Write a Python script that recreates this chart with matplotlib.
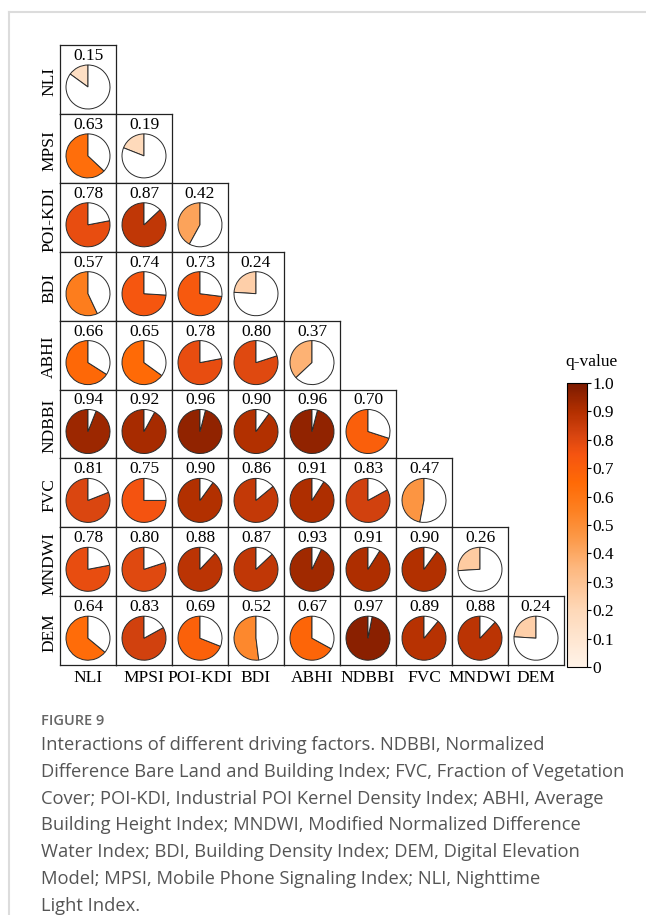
import matplotlib
matplotlib.use("Agg")
import matplotlib.pyplot as plt
import numpy as np
from matplotlib.colors import LinearSegmentedColormap, Normalize
from matplotlib.cm import ScalarMappable
from matplotlib.lines import Line2D

W, H = 646, 915

factors = ["NLI", "MPSI", "POI-KDI", "BDI", "ABHI", "NDBBI", "FVC", "MNDWI", "DEM"]

# lower triangle of q-values, row by row
qNLI = [0.15]
qMPSI = [0.63, 0.19]
qPOI = [0.78, 0.87, 0.42]
qBDI = [0.57, 0.74, 0.73, 0.24]
qABHI = [0.66, 0.65, 0.78, 0.80, 0.37]
qNDBBI = [0.94, 0.92, 0.96, 0.90, 0.96, 0.70]
qFVC = [0.81, 0.75, 0.90, 0.86, 0.91, 0.83, 0.47]
qMNDWI = [0.78, 0.80, 0.88, 0.87, 0.93, 0.91, 0.90, 0.26]
qDEM = [0.64, 0.83, 0.69, 0.52, 0.67, 0.97, 0.89, 0.88, 0.24]
qRows = [qNLI, qMPSI, qPOI, qBDI, qABHI, qNDBBI, qFVC, qMNDWI, qDEM]

cbTicks = [0, 0.1, 0.2, 0.3, 0.4, 0.5, 0.6, 0.7, 0.8, 0.9, 1.0]
cbTickLabels = ["0", "0.1", "0.2", "0.3", "0.4", "0.5", "0.6", "0.7", "0.8", "0.9", "1.0"]

captionHead = "FIGURE 9"
captionLines = [
	"Interactions of different driving factors. NDBBI, Normalized",
	"Difference Bare Land and Building Index; FVC, Fraction of Vegetation",
	"Cover; POI-KDI, Industrial POI Kernel Density Index; ABHI, Average",
	"Building Height Index; MNDWI, Modified Normalized Difference",
	"Water Index; BDI, Building Density Index; DEM, Digital Elevation",
	"Model; MPSI, Mobile Phone Signaling Index; NLI, Nighttime",
	"Light Index.",
]

cmap = LinearSegmentedColormap.from_list("qval", [
	(0.0, "#fff3e8"), (0.2, "#fed8b8"), (0.35, "#fdb77e"), (0.45, "#fc9a4a"),
	(0.55, "#fd8122"), (0.65, "#ff6a06"), (0.75, "#f55410"), (0.82, "#d64410"),
	(0.9, "#b33000"), (1.0, "#7b1a00")])
norm = Normalize(0, 1)

serif = "Liberation Serif"

def box(l, t, w, h):
	# pixel box (top-left origin) -> figure fraction rect
	return [l / W, 1 - (t + h) / H, w / W, h / H]

fig = plt.figure(figsize=(W / 100, H / 100), dpi=100)

# page frame
fig.add_artist(Line2D([9 / W, 1], [1 - 12 / H, 1 - 12 / H], color="#dcdcdc", lw=1.5))
fig.add_artist(Line2D([9 / W, 9 / W], [1 - 12 / H, 0], color="#dcdcdc", lw=1.5))

x0, y0 = 60, 45
cw, ch = 56, 68.9

for i, row in enumerate(qRows):
	for j, q in enumerate(row):
		ax = fig.add_axes(box(x0 + j * cw, y0 + i * ch, cw, ch))
		ax.pie([q, 1 - q], colors=[cmap(norm(q)), "white"], startangle=90, counterclock=True,
			radius=22, center=(cw / 2, ch - 42), frame=True,
			wedgeprops=dict(edgecolor="#2a2a2a", linewidth=0.7))
		ax.text(cw / 2, ch - 11, "%.2f" % q, ha="center", va="center", fontsize=12.5, family=serif)
		ax.set_xlim(0, cw)
		ax.set_ylim(0, ch)
		ax.set_xticks([])
		ax.set_yticks([])
		for s in ax.spines.values():
			s.set_linewidth(0.9)
			s.set_color("#222222")

# row and column labels
for i, name in enumerate(factors):
	fig.text(49 / W, 1 - (y0 + i * ch + ch / 2 + 2) / H, name, rotation=90, ha="center", va="center",
		fontsize=12.5, family=serif)
	fig.text((x0 + i * cw + cw / 2) / W, 1 - 678 / H, name, ha="center", va="center",
		fontsize=12.5, family=serif)

# colorbar
cax = fig.add_axes(box(567, 383, 20, 284))
cb = fig.colorbar(ScalarMappable(norm=norm, cmap=cmap), cax=cax, ticks=cbTicks)
cb.ax.set_yticklabels(cbTickLabels, family=serif, fontsize=12.5)
cb.ax.tick_params(length=3, width=0.8, pad=1)
cb.outline.set_linewidth(0.8)
fig.text(592 / W, 1 - 362 / H, "q-value", ha="center", va="center", fontsize=12.5, family=serif)

# caption
fig.text(41 / W, 1 - 721 / H, captionHead, ha="left", va="center", fontsize=10.5, color="#666666",
	family="Open Sans", weight="semibold")
for k, line in enumerate(captionLines):
	fig.text(41 / W, 1 - (745 + k * 26.8) / H, line, ha="left", va="center", fontsize=13.2,
		color="#555555", family="Open Sans")

plt.savefig("out.png", dpi=100)
